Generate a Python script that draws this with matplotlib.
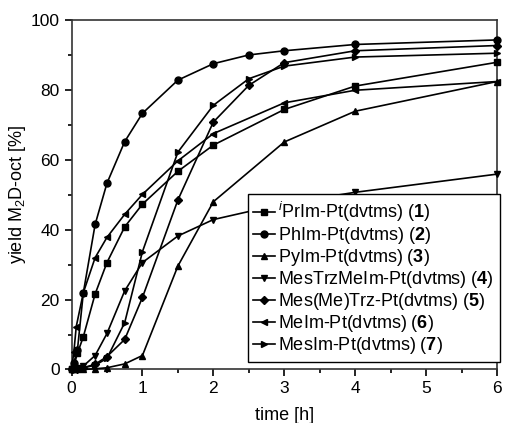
import matplotlib
matplotlib.use("Agg")
import matplotlib.pyplot as plt
from matplotlib.ticker import MultipleLocator

plt.rcParams["font.family"] = ["Liberation Sans", "DejaVu Sans"]
plt.rcParams["mathtext.fontset"] = "custom"
plt.rcParams["mathtext.rm"] = "Liberation Sans"
plt.rcParams["mathtext.it"] = "Liberation Sans:italic"
plt.rcParams["mathtext.bf"] = "Liberation Sans:bold"

# series (time in h, yield in %)
t_ipr = [0, 0.033, 0.083, 0.167, 0.333, 0.5, 0.75, 1, 1.5, 2, 3, 4, 6]
y_ipr = [0, 1, 4.6, 9.4, 21.6, 30.6, 40.8, 47.3, 56.7, 64.2, 74.4, 81.1, 87.9]

t_ph = [0, 0.033, 0.083, 0.167, 0.333, 0.5, 0.75, 1, 1.5, 2, 2.5, 3, 4, 6]
y_ph = [0, 2, 5.5, 22, 41.5, 53.3, 65.2, 73.3, 82.8, 87.5, 90, 91.2, 93, 94.3]

t_py = [0, 0.083, 0.167, 0.333, 0.5, 0.75, 1, 1.5, 2, 3, 4, 6]
y_py = [0, 0, 0, 0.2, 0.5, 1.6, 4, 29.6, 48, 65.1, 73.9, 82.4]

t_trzme = [0, 0.083, 0.167, 0.333, 0.5, 0.75, 1, 1.5, 2, 3, 4, 6]
y_trzme = [0, 0.3, 1, 4, 10.3, 22.5, 30.6, 38.2, 42.9, 47.5, 50.7, 55.9]

t_metrz = [0, 0.083, 0.167, 0.333, 0.5, 0.75, 1, 1.5, 2, 2.5, 3, 4, 6]
y_metrz = [0, 0.2, 0.5, 1.5, 3.7, 8.6, 20.6, 48.5, 70.8, 81.3, 87.8, 91.2, 92.7]

t_me = [0, 0.033, 0.067, 0.167, 0.333, 0.5, 0.75, 1, 1.5, 2, 3, 4, 6]
y_me = [0, 5, 12.3, 22, 32, 37.8, 44.4, 50.1, 59.7, 67.5, 76.3, 79.9, 82.4]

t_mes = [0, 0.083, 0.167, 0.333, 0.5, 0.75, 1, 1.5, 2, 2.5, 3, 4, 6]
y_mes = [0, 0.2, 0.5, 1.2, 3.2, 13.4, 33.7, 62.2, 75.6, 83.2, 86.8, 89.4, 90.5]

labels = [
    r"$^{i}$PrIm-Pt(dvtms) ($\mathbf{1}$)",
    r"PhIm-Pt(dvtms) ($\mathbf{2}$)",
    r"PyIm-Pt(dvtms) ($\mathbf{3}$)",
    r"MesTrzMeIm-Pt(dvtms) ($\mathbf{4}$)",
    r"Mes(Me)Trz-Pt(dvtms) ($\mathbf{5}$)",
    r"MeIm-Pt(dvtms) ($\mathbf{6}$)",
    r"MesIm-Pt(dvtms) ($\mathbf{7}$)",
]
series = [
    (t_ipr, y_ipr, "s"),
    (t_ph, y_ph, "o"),
    (t_py, y_py, "^"),
    (t_trzme, y_trzme, "v"),
    (t_metrz, y_metrz, "D"),
    (t_me, y_me, "<"),
    (t_mes, y_mes, ">"),
]

fig = plt.figure(figsize=(5.05, 4.23), dpi=100)
ax = fig.add_axes([0.1416, 0.1265, 0.8426, 0.8262])

for (t, y, m), lab in zip(series, labels):
    ms = 4 if m == "D" else 5
    ax.plot(t, y, color="black", lw=1.2, marker=m, ms=ms, label=lab,
            clip_on=False, zorder=3)

ax.set_xlim(0, 6)
ax.set_ylim(0, 100)
ax.xaxis.set_major_locator(MultipleLocator(1))
ax.xaxis.set_minor_locator(MultipleLocator(0.5))
ax.yaxis.set_major_locator(MultipleLocator(20))
ax.yaxis.set_minor_locator(MultipleLocator(10))
ax.tick_params(which="major", length=5, width=1.2, labelsize=12.5, direction="out")
ax.tick_params(which="minor", length=3, width=1.2, direction="out")
for sp in ax.spines.values():
    sp.set_linewidth(1.2)
    sp.set_color("#333333")

ax.set_xlabel("time [h]", fontsize=13, labelpad=8)
ax.set_ylabel(r"yield M$_2$D-oct [%]", fontsize=13, labelpad=2)

leg = ax.legend(loc="lower right", bbox_to_anchor=(1.006, 0.022), fontsize=13,
                frameon=True, fancybox=False, edgecolor="black", framealpha=1,
                handlelength=1.2, handletextpad=0.2, borderpad=0.3,
                labelspacing=0.06, borderaxespad=0)
leg.get_frame().set_linewidth(1.0)
leg.set_zorder(10)

fig.savefig("out.png", dpi=100)
